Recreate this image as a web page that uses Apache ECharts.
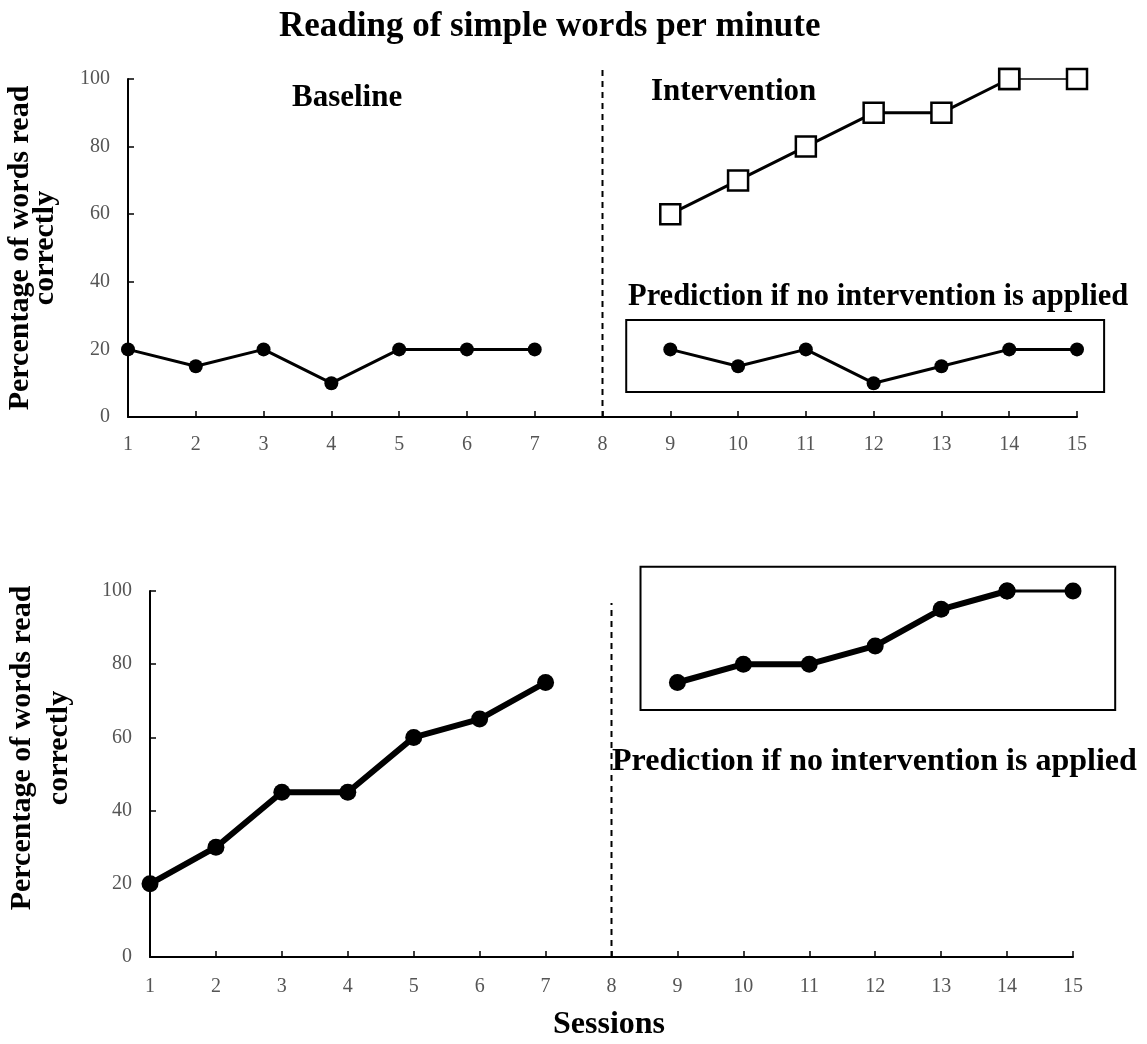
<!DOCTYPE html>
<html><head><meta charset="utf-8">
<script src="https://cdn.jsdelivr.net/npm/echarts/dist/echarts.min.js"></script>
<style>html,body{margin:0;padding:0;background:#fff}#c{width:1147px;height:1044px}</style>
</head><body><div id="c"></div>
<script>
// ---- data ----
const baselineSessions = [1, 2, 3, 4, 5, 6, 7];
const interventionSessions = [9, 10, 11, 12, 13, 14, 15];
const topBaseline = [20, 15, 20, 10, 20, 20, 20];
const topIntervention = [60, 70, 80, 90, 90, 100, 100];
const topPrediction = [20, 15, 20, 10, 15, 20, 20];
const bottomBaseline = [20, 30, 45, 45, 60, 65, 75];
const bottomPrediction = [75, 80, 80, 85, 95, 100, 100];
const phaseChange = 8;
const titleText = 'Reading of simple words per minute';
const yName = 'Percentage of words read\ncorrectly';
const xName = 'Sessions';

const SERIF = '"Liberation Serif", "Times New Roman", serif';
const pairs = (xs, ys) => xs.map((x, i) => [x, ys[i]]);

function xAxisCfg(idx) {
  return {
    gridIndex: idx, type: 'value', min: 1, max: 15, interval: 1,
    axisLine: { show: true, lineStyle: { color: '#000', width: 2 } },
    axisTick: { show: true, inside: true, length: 6, lineStyle: { color: '#000', width: 1.5 } },
    axisLabel: { color: '#555', fontFamily: SERIF, fontSize: 20, margin: idx === 0 ? 18 : 20 },
    splitLine: { show: false }
  };
}
function yAxisCfg(idx) {
  return {
    gridIndex: idx, type: 'value', min: 0, max: 100, interval: 20,
    name: yName, nameLocation: 'middle', nameRotate: 90, nameGap: idx === 0 ? 70 : 72,
    nameTextStyle: { color: '#000', fontFamily: SERIF, fontWeight: 'bold', fontSize: 30,
      lineHeight: idx === 0 ? 25 : 37, padding: idx === 0 ? 0 : [0, 0, 0, 52] },
    axisLine: { show: true, lineStyle: { color: '#000', width: 2 } },
    axisTick: { show: true, inside: true, length: 6, lineStyle: { color: '#000', width: 1.5 } },
    axisLabel: { color: '#555', fontFamily: SERIF, fontSize: 20, margin: 18 },
    splitLine: { show: false }
  };
}
function vline(params, api) {
  const p0 = api.coord([api.value(0), api.value(1)]);
  const p1 = api.coord([api.value(0), api.value(2)]);
  return { type: 'line', shape: { x1: p0[0], y1: p0[1], x2: p1[0], y2: p1[1] },
    style: { stroke: '#000', lineWidth: 2, lineDash: [6, 5] } };
}
function box(params, api) {
  const p0 = api.coord([api.value(0), api.value(1)]);
  const p1 = api.coord([api.value(2), api.value(3)]);
  return { type: 'rect', shape: { x: p0[0], y: p0[1], width: p1[0] - p0[0], height: p1[1] - p0[1] },
    style: { fill: 'none', stroke: '#000', lineWidth: 2 } };
}
function lineSeries(idx, data, width, symbol, size) {
  return {
    type: 'line', xAxisIndex: idx, yAxisIndex: idx, data: data, clip: false,
    symbol: symbol, symbolSize: size, showSymbol: true, animation: false, silent: true,
    lineStyle: { color: '#000', width: width },
    itemStyle: symbol === 'rect' ? { color: '#fff', borderColor: '#000', borderWidth: 2.5 } : { color: '#000', borderWidth: 0 },
    z: symbol === 'rect' ? 5 : 4
  };
}
const annText = (x, y, t, size, align) => ({
  type: 'text', x: x, y: y,
  style: { text: t, fill: '#000', font: 'bold ' + size + 'px ' + SERIF, textAlign: align || 'left', textVerticalAlign: 'middle' }
});

const topI = pairs(interventionSessions, topIntervention);
const botP = pairs(interventionSessions, bottomPrediction);

const chart = echarts.init(document.getElementById('c'), null, { renderer: 'canvas' });
chart.setOption({
  backgroundColor: '#fff',
  animation: false,
  title: { text: titleText, left: 274, top: 4,
    textStyle: { color: '#000', fontFamily: SERIF, fontWeight: 'bold', fontSize: 35 } },
  grid: [
    { left: 128, top: 79, width: 949, height: 338, containLabel: false, outerBoundsMode: 'none' },
    { left: 150, top: 591, width: 923, height: 366, containLabel: false, outerBoundsMode: 'none' }
  ],
  xAxis: [xAxisCfg(0), xAxisCfg(1)],
  yAxis: [yAxisCfg(0), yAxisCfg(1)],
  graphic: [
    annText(292, 98, 'Baseline', 31),
    annText(651, 92, 'Intervention', 31),
    annText(628, 297, 'Prediction if no intervention is applied', 30.5),
    annText(612, 762, 'Prediction if no intervention is applied', 32),
    annText(609, 1025, xName, 32, 'center')
  ],
  series: [
    { type: 'custom', xAxisIndex: 0, yAxisIndex: 0, renderItem: vline, data: [[phaseChange, 0, 103]], silent: true, z: 1 },
    { type: 'custom', xAxisIndex: 1, yAxisIndex: 1, renderItem: vline, data: [[phaseChange, 0, 96.7]], silent: true, z: 1 },
    { type: 'custom', xAxisIndex: 0, yAxisIndex: 0, renderItem: box, data: [[8.35, 28.7, 15.4, 7.4]], silent: true, z: 1 },
    { type: 'custom', xAxisIndex: 1, yAxisIndex: 1, renderItem: box, data: [[8.44, 106.6, 15.64, 67.5]], silent: true, z: 1 },
    lineSeries(0, pairs(baselineSessions, topBaseline), 3, 'circle', 14),
    lineSeries(0, topI.slice(0, 6), 3, 'rect', 20),
    lineSeries(0, topI.slice(5), 1.5, 'rect', 20),
    lineSeries(0, pairs(interventionSessions, topPrediction), 3, 'circle', 14),
    lineSeries(1, pairs(baselineSessions, bottomBaseline), 6, 'circle', 17),
    lineSeries(1, botP.slice(0, 6), 6, 'circle', 17),
    lineSeries(1, botP.slice(5), 3, 'circle', 17)
  ]
});
</script>
</body></html>
